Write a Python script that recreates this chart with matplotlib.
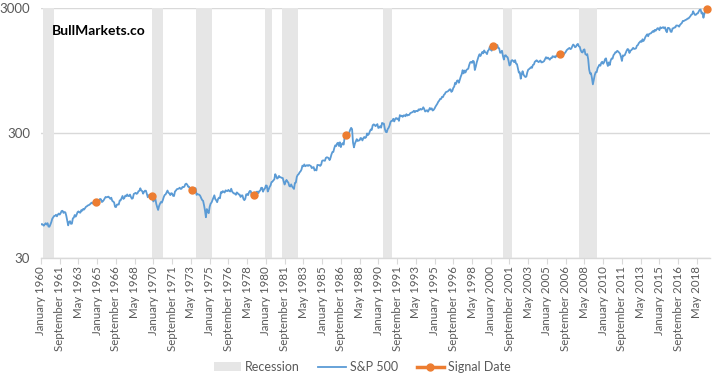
import matplotlib
matplotlib.use("Agg")
import matplotlib.pyplot as plt
import matplotlib.ticker as mticker
from matplotlib.patches import Patch
from matplotlib.lines import Line2D
import numpy as np
import pandas as pd

plt.rcParams['font.family'] = ['Lato', 'DejaVu Sans']

start = "1960-01"
# S&P 500 monthly closes, Jan 1960 - Apr 2019
sp500 = [
    55.61, 56.12, 55.34, 54.37, 55.83, 56.92, 55.51, 56.96, 53.52, 53.39, 55.54, 58.11,
    61.78, 63.44, 65.06, 65.31, 66.56, 64.64, 66.76, 68.07, 66.73, 68.62, 71.32, 71.55,
    68.84, 69.96, 69.55, 65.24, 59.63, 54.75, 58.23, 59.12, 56.27, 56.52, 62.26, 63.10,
    66.20, 64.29, 66.57, 69.80, 70.80, 69.37, 69.13, 72.50, 71.70, 74.01, 73.23, 75.02,
    77.04, 77.80, 78.98, 79.46, 80.37, 81.69, 83.18, 81.83, 84.18, 84.86, 84.42, 84.75,
    87.56, 87.43, 86.16, 89.11, 88.42, 84.12, 85.25, 87.17, 89.96, 92.42, 91.61, 92.43,
    92.88, 91.22, 89.23, 91.06, 86.13, 84.74, 83.60, 77.10, 76.56, 80.20, 80.45, 80.33,
    86.61, 86.78, 90.20, 94.01, 89.08, 90.64, 94.75, 93.64, 96.71, 93.90, 94.00, 96.47,
    92.24, 89.36, 90.20, 97.59, 98.68, 99.58, 97.74, 98.86, 102.67, 103.41, 108.37, 103.86,
    103.01, 98.13, 101.51, 103.69, 103.46, 97.71, 91.83, 95.51, 93.12, 97.24, 93.81, 92.06,
    85.02, 89.50, 89.63, 81.52, 76.55, 72.72, 78.05, 81.52, 84.21, 83.25, 87.20, 92.15,
    95.88, 96.75, 100.31, 103.95, 99.63, 98.70, 95.58, 99.03, 98.34, 94.23, 93.99, 102.09,
    103.94, 106.57, 107.20, 107.67, 109.53, 107.14, 107.39, 111.09, 110.55, 111.58, 116.67, 118.05,
    116.03, 111.68, 111.52, 106.97, 104.95, 104.26, 108.22, 104.25, 108.43, 108.29, 95.96, 97.55,
    96.57, 96.22, 93.98, 90.31, 87.28, 86.00, 79.31, 72.15, 63.54, 73.90, 69.97, 68.56,
    76.98, 81.59, 83.36, 87.30, 91.15, 95.19, 88.75, 86.88, 83.87, 89.04, 91.24, 90.19,
    100.86, 99.71, 102.77, 101.64, 100.18, 104.28, 103.44, 102.91, 105.24, 102.90, 102.10, 107.46,
    102.03, 99.82, 98.42, 98.44, 96.12, 100.48, 98.85, 96.77, 96.53, 92.34, 94.83, 95.10,
    89.25, 87.04, 89.21, 96.83, 97.24, 95.53, 100.68, 103.29, 102.54, 93.15, 94.70, 96.11,
    99.93, 96.28, 101.59, 101.76, 99.08, 102.91, 103.81, 109.32, 109.32, 101.82, 106.16, 107.94,
    114.16, 113.66, 102.09, 106.29, 111.24, 114.24, 121.67, 122.38, 125.46, 127.47, 140.52, 135.76,
    129.55, 131.27, 136.00, 132.81, 132.59, 131.21, 130.92, 122.79, 116.18, 121.89, 126.35, 122.55,
    120.40, 113.11, 111.96, 116.44, 111.88, 109.61, 107.09, 119.51, 120.42, 133.71, 138.54, 140.64,
    145.30, 148.06, 152.96, 164.42, 162.39, 168.11, 162.56, 164.40, 166.07, 163.55, 166.40, 164.93,
    163.41, 157.06, 159.18, 160.05, 150.55, 153.18, 150.66, 166.68, 166.10, 166.09, 163.58, 167.24,
    179.63, 181.18, 180.66, 179.83, 189.55, 191.85, 190.92, 188.63, 182.08, 189.82, 202.17, 211.28,
    211.78, 226.92, 238.90, 235.52, 247.35, 250.84, 236.12, 252.93, 231.32, 243.98, 249.22, 242.17,
    274.08, 284.20, 291.70, 288.36, 290.10, 304.00, 318.66, 329.80, 321.83, 251.79, 230.30, 247.08,
    257.07, 267.82, 258.89, 261.33, 262.16, 273.50, 272.02, 261.52, 271.91, 278.97, 273.70, 277.72,
    297.47, 288.86, 294.87, 309.64, 320.52, 317.98, 346.08, 351.45, 349.15, 340.36, 345.99, 353.40,
    329.08, 331.89, 339.94, 330.80, 361.23, 358.02, 356.15, 322.56, 306.05, 304.00, 322.22, 330.22,
    343.93, 367.07, 375.22, 375.35, 389.83, 371.16, 387.81, 395.43, 387.86, 392.46, 375.22, 417.09,
    408.79, 412.70, 403.69, 414.95, 415.35, 408.14, 424.21, 414.03, 417.80, 418.68, 431.35, 435.71,
    438.78, 443.38, 451.67, 440.19, 450.19, 450.53, 448.13, 463.56, 458.93, 467.83, 461.79, 466.45,
    481.61, 467.14, 445.77, 450.91, 456.50, 444.27, 458.26, 475.49, 462.69, 472.35, 453.69, 459.27,
    470.42, 487.39, 500.71, 514.71, 533.40, 544.75, 562.06, 561.88, 584.41, 581.50, 605.37, 615.93,
    636.02, 640.43, 645.50, 654.17, 669.12, 670.63, 639.95, 651.99, 687.33, 705.27, 757.02, 740.74,
    786.16, 790.82, 757.12, 801.34, 848.28, 885.14, 954.29, 899.47, 947.28, 914.62, 955.40, 970.43,
    980.28, 1049.34, 1101.75, 1111.75, 1090.82, 1133.84, 1120.67, 957.28, 1017.01, 1098.67, 1163.63, 1229.23,
    1279.64, 1238.33, 1286.37, 1335.18, 1301.84, 1372.71, 1328.72, 1320.41, 1282.71, 1362.93, 1388.91, 1469.25,
    1394.46, 1366.42, 1498.58, 1452.43, 1420.60, 1454.60, 1430.83, 1517.68, 1436.51, 1429.40, 1314.95, 1320.28,
    1366.01, 1239.94, 1160.33, 1249.46, 1255.82, 1224.42, 1211.23, 1133.58, 1040.94, 1059.78, 1139.45, 1148.08,
    1130.20, 1106.73, 1147.39, 1076.92, 1067.14, 989.82, 911.62, 916.07, 815.28, 885.76, 936.31, 879.82,
    855.70, 841.15, 848.18, 916.92, 963.59, 974.50, 990.31, 1008.01, 995.97, 1050.71, 1058.20, 1111.92,
    1131.13, 1144.94, 1126.21, 1107.30, 1120.68, 1140.84, 1101.72, 1104.24, 1114.58, 1130.20, 1173.82, 1211.92,
    1181.27, 1203.60, 1180.59, 1156.85, 1191.50, 1191.33, 1234.18, 1220.33, 1228.81, 1207.01, 1249.48, 1248.29,
    1280.08, 1280.66, 1294.83, 1310.61, 1270.09, 1270.20, 1276.66, 1303.82, 1335.85, 1377.94, 1400.63, 1418.30,
    1438.24, 1406.82, 1420.86, 1482.37, 1530.62, 1503.35, 1455.27, 1473.99, 1526.75, 1549.38, 1481.14, 1468.36,
    1378.55, 1330.63, 1322.70, 1385.59, 1400.38, 1280.00, 1267.38, 1282.83, 1166.36, 968.75, 896.24, 903.25,
    825.88, 735.09, 797.87, 872.81, 919.14, 919.32, 987.48, 1020.62, 1057.08, 1036.19, 1095.63, 1115.10,
    1073.87, 1104.49, 1169.43, 1186.69, 1089.41, 1030.71, 1101.60, 1049.33, 1141.20, 1183.26, 1180.55, 1257.64,
    1286.12, 1327.22, 1325.83, 1363.61, 1345.20, 1320.64, 1292.28, 1218.89, 1131.42, 1253.30, 1246.96, 1257.60,
    1312.41, 1365.68, 1408.47, 1397.91, 1310.33, 1362.16, 1379.32, 1406.58, 1440.67, 1412.16, 1416.18, 1426.19,
    1498.11, 1514.68, 1569.19, 1597.57, 1630.74, 1606.28, 1685.73, 1632.97, 1681.55, 1756.54, 1805.81, 1848.36,
    1782.59, 1859.45, 1872.34, 1883.95, 1923.57, 1960.23, 1930.67, 2003.37, 1972.29, 2018.05, 2067.56, 2058.90,
    1994.99, 2104.50, 2067.89, 2085.51, 2107.39, 2063.11, 2103.84, 1972.18, 1920.03, 2079.36, 2080.41, 2043.94,
    1940.24, 1932.23, 2059.74, 2065.30, 2096.95, 2098.86, 2173.60, 2170.95, 2168.27, 2126.15, 2198.81, 2238.83,
    2278.87, 2363.64, 2362.72, 2384.20, 2411.80, 2423.41, 2470.30, 2471.65, 2519.36, 2575.26, 2647.58, 2673.61,
    2823.81, 2713.83, 2640.87, 2648.05, 2705.27, 2718.37, 2816.29, 2901.52, 2913.98, 2711.74, 2760.17, 2506.85,
    2704.10, 2784.49, 2834.40, 2945.83,
]

recession_starts = ["1960-04", "1969-12", "1973-11", "1980-01", "1981-07", "1990-07", "2001-03", "2007-12"]
recession_ends = ["1961-02", "1970-11", "1975-03", "1980-07", "1982-11", "1991-03", "2001-11", "2009-06"]

signal_dates = ["1964-12", "1969-11", "1973-06", "1978-12", "1987-03", "2000-03", "2006-03", "2019-04"]

y_ticks = [30, 300, 3000]
tick_step_months = 20


def month_index(s):
    p = pd.Period(s, freq="M")
    return (p - pd.Period(start, freq="M")).n


x = np.arange(len(sp500))
vals = np.array(sp500)

fig = plt.figure(figsize=(7.2, 3.78), dpi=100)
ax = fig.add_axes([41 / 720, 1 - 258 / 378, (710 - 41) / 720, 250 / 378])

gray_rec = "#E6E6E6"
for s, e in zip(recession_starts, recession_ends):
    ax.axvspan(month_index(s) - 0.5, month_index(e) + 0.5, color=gray_rec, lw=0, zorder=1)

ax.plot(x, vals, color="#5B9BD5", lw=1.3, zorder=3)

sig_idx = [month_index(d) for d in signal_dates]
ax.plot(sig_idx, vals[sig_idx], "o", color="#ED7D31", ms=5, zorder=4, lw=0, clip_on=False)

ax.set_yscale("log")
ax.set_ylim(30, 3000)
ax.yaxis.set_major_locator(mticker.FixedLocator(y_ticks))
ax.yaxis.set_minor_locator(mticker.NullLocator())
ax.yaxis.set_major_formatter(mticker.FixedFormatter([str(v) for v in y_ticks]))
ax.set_xlim(0, 714)

ticks = list(range(0, len(sp500), tick_step_months))
tick_labels = [(pd.Period(start, freq="M") + t).strftime("%B %Y") for t in ticks]
ax.set_xticks(ticks)
ax.set_xticklabels(tick_labels, rotation=90, fontsize=8.3, color="#595959")

ax.grid(axis="y", color="#D9D9D9", lw=1, zorder=0)
ax.set_axisbelow(True)
for sp in ["left", "right", "top"]:
    ax.spines[sp].set_visible(False)
ax.spines["bottom"].set_color("#D9D9D9")
ax.spines["bottom"].set_linewidth(1)
ax.spines["bottom"].set_zorder(5)
ax.tick_params(axis="x", direction="out", length=4, color="#D9D9D9", pad=2)
ax.tick_params(axis="y", length=0, labelsize=9.5, labelcolor="#595959", pad=8)

ax.text((52 - 41) / 669, (258 - 31) / 250, "BullMarkets.co", fontsize=10, fontweight="bold",
        color="black", transform=ax.transAxes, va="center", ha="left", zorder=6)

handles = [
    Patch(facecolor=gray_rec, edgecolor="none", label="Recession"),
    Line2D([0], [0], color="#5B9BD5", lw=1.3, label="S&P 500"),
    Line2D([0], [0], color="#ED7D31", lw=2.5, marker="o", ms=5, label="Signal Date"),
]
fig.legend(handles=handles, loc="center", bbox_to_anchor=(362 / 720, 1 - 367 / 378), ncol=3,
           frameon=False, fontsize=9, labelcolor="#595959", handlelength=2.2, columnspacing=1.5,
           handletextpad=0.3)

fig.savefig("out.png", dpi=100)
